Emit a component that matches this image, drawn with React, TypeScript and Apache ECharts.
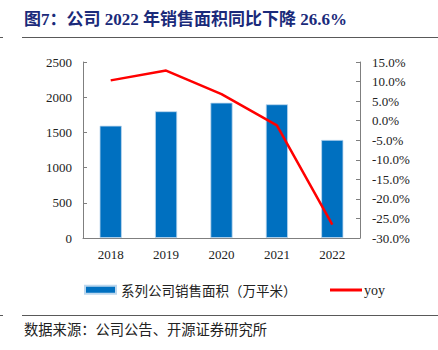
import React, { useEffect, useRef } from "react";
import * as echarts from "echarts";

const years = ["2018", "2019", "2020", "2021", "2022"];
const salesArea = [1595, 1800, 1922, 1899, 1393];
const yoy = [10.3, 12.8, 6.8, -1.2, -26.6];

const titleText = "图7：公司 2022 年销售面积同比下降 26.6%";
const sourceText = "数据来源：公司公告、开源证券研究所";
const barName = "系列公司销售面积（万平米）";
const lineName = "yoy";

const serif = "'Liberation Serif', 'Times New Roman', 'Noto Sans CJK SC', serif";
const cjk = "'Noto Sans CJK SC', sans-serif";

export default function App() {
  const ref = useRef<HTMLDivElement>(null);
  useEffect(() => {
    if (!ref.current) return;
    const chart = echarts.init(ref.current, undefined, { renderer: "svg" });
    const axisColor = "#7f7f7f";
    chart.setOption({
      animation: false,
      backgroundColor: "#ffffff",
      grid: { left: 83, right: 78, top: 62, bottom: 112 },
      graphic: [
        {
          type: "text",
          left: 24,
          top: 11,
          style: {
            text: titleText,
            fill: "#1a2a7a",
            font: `bold 17px ${serif}`,
          },
        },
        { type: "line", shape: { x1: 22, y1: 37.5, x2: 438, y2: 37.5 }, style: { stroke: "#595959", lineWidth: 1 } },
        { type: "line", shape: { x1: 0, y1: 37.5, x2: 3, y2: 37.5 }, style: { stroke: "#595959", lineWidth: 1 } },
        { type: "line", shape: { x1: 22, y1: 315.5, x2: 438, y2: 315.5 }, style: { stroke: "#595959", lineWidth: 1 } },
        { type: "line", shape: { x1: 0, y1: 315.5, x2: 3, y2: 315.5 }, style: { stroke: "#595959", lineWidth: 1 } },
        {
          type: "text",
          left: 24,
          top: 321,
          style: { text: sourceText, fill: "#222222", font: `14.3px ${cjk}` },
        },
      ],
      legend: [
        {
          data: [{ name: barName, icon: "rect" }],
          left: 79,
          top: 278,
          itemWidth: 31,
          itemHeight: 8,
          itemGap: 5,
          textStyle: { fontFamily: cjk, fontSize: 13.5, color: "#222" },
        },
        {
          data: [{ name: lineName, icon: "rect" }],
          left: 325,
          top: 278,
          itemWidth: 32,
          itemHeight: 3,
          textStyle: { fontFamily: serif, fontSize: 14, color: "#222", padding: [0, 0, 0, -3] },
        },
      ],
      xAxis: {
        type: "category",
        data: years,
        axisLine: { lineStyle: { color: axisColor } },
        axisTick: { inside: true, length: 4, lineStyle: { color: axisColor } },
        axisLabel: { fontFamily: serif, fontSize: 13, color: "#222", margin: 10 },
      },
      yAxis: [
        {
          type: "value",
          min: 0,
          max: 2500,
          interval: 500,
          splitLine: { show: false },
          axisLine: { show: true, lineStyle: { color: axisColor } },
          axisTick: { show: true, inside: true, length: 4, lineStyle: { color: axisColor } },
          axisLabel: {
            fontFamily: serif,
            fontSize: 13,
            color: "#222",
            margin: 11,
            formatter: (v: number) => String(v),
          },
        },
        {
          type: "value",
          min: -30,
          max: 15,
          interval: 5,
          position: "right",
          splitLine: { show: false },
          axisLine: { show: true, lineStyle: { color: axisColor } },
          axisTick: { show: true, inside: true, length: 4, lineStyle: { color: axisColor } },
          axisLabel: {
            fontFamily: serif,
            fontSize: 13,
            color: "#222",
            margin: 12,
            formatter: (v: number) => v.toFixed(1) + "%",
          },
        },
      ],
      series: [
        {
          name: barName,
          type: "bar",
          data: salesArea,
          barWidth: "40%",
          itemStyle: { color: "#0070c0", borderColor: "#bcd7ee", borderWidth: 0.8 },
        },
        {
          name: lineName,
          type: "line",
          yAxisIndex: 1,
          data: yoy,
          symbol: "none",
          lineStyle: { color: "#ff0000", width: 2.5 },
          itemStyle: { color: "#ff0000" },
        },
      ],
    });
    return () => chart.dispose();
  }, []);
  return <div ref={ref} style={{ width: 438, height: 350, position: "absolute", left: 0, top: 0 }} />;
}
